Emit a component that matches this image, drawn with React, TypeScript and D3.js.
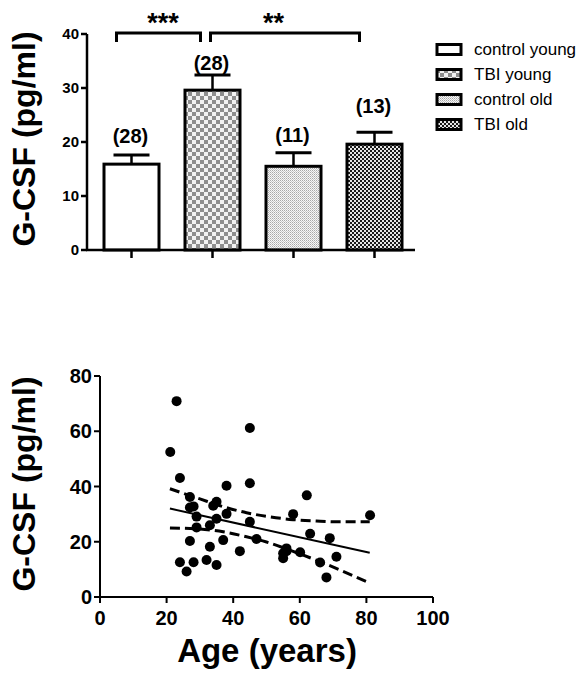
import React from "react";
import * as d3 from "d3";

const groups = ["control young", "TBI young", "control old", "TBI old"];
const means = [15.9, 29.6, 15.5, 19.6];
const sems = [1.7, 2.8, 2.5, 2.2];
const counts = ["(28)", "(28)", "(11)", "(13)"];
const countLabelAt = [19.8, 33.3, 20.0, 25.4];
const barTicks = [0, 10, 20, 30, 40];
const sigLabels = ["***", "**"];

const ages = [21.1, 23.0, 24.0, 24.0, 26.0, 27.0, 27.0, 27.0, 28.1, 28.1, 29.0, 29.0, 32.0, 33.0, 33.0, 34.0, 35.0, 35.0, 35.0, 37.0, 38.0, 38.0, 42.0, 45.0, 45.0, 45.0, 47.0, 55.0, 55.0, 56.0, 56.0, 58.0, 60.1, 62.1, 63.1, 66.1, 68.0, 69.0, 71.0, 81.1];
const gcsf = [52.5, 70.9, 43.1, 12.6, 9.2, 36.2, 20.3, 32.4, 32.8, 12.6, 29.1, 25.2, 13.4, 26.0, 18.2, 33.0, 34.5, 28.3, 11.6, 20.6, 30.1, 40.3, 16.6, 61.2, 41.2, 27.2, 21.0, 14.0, 15.8, 17.6, 16.6, 30.0, 16.2, 36.8, 22.9, 12.5, 7.1, 21.3, 14.6, 29.6];
const fitAges = [21, 81];
const fitValues = [32.0, 16.0];
const bandAges = [21, 30, 37, 44, 50, 58, 65, 72, 81];
const bandUpper = [39.2, 35.5, 32.7, 30.5, 29.2, 28.0, 27.5, 27.2, 27.2];
const bandLower = [25.0, 24.6, 23.6, 21.8, 19.9, 16.5, 13.3, 9.8, 5.0];
const ageTicks = [0, 20, 40, 60, 80, 100];
const gTicks = [0, 20, 40, 60, 80];

const FONT = "'Liberation Sans', Arial, Helvetica, sans-serif";
const fills = ["#ffffff", "url(#pCheck)", "url(#pDots)", "url(#pDark)"];

export default function App() {
  // Bar chart scales
  const xb = d3.scalePoint<string>().domain(groups).range([91, 415]).padding(0.5);
  const yb = d3.scaleLinear().domain([0, 40]).range([250, 34]);
  const bw = 55;
  const capW = 36;

  // Scatter scales
  const xs = d3.scaleLinear().domain([0, 100]).range([100, 433]);
  const ys = d3.scaleLinear().domain([0, 80]).range([597, 376]);
  const fitLine = d3.line<number>().x((_, i) => xs(fitAges[i])).y((v) => ys(v));
  const bandLine = d3
    .line<number>()
    .x((_, i) => xs(bandAges[i]))
    .y((v) => ys(v))
    .curve(d3.curveMonotoneX);

  const x1 = xb(groups[0])!, x2 = xb(groups[1])!, x4 = xb(groups[3])!;
  const brackets = [
    { l: x1 - 15, r: x2 - 12, label: sigLabels[0], lx: (x1 + x2) / 2 - 9 },
    { l: x2 - 2, r: x4 - 15, label: sigLabels[1], lx: (x2 + x4) / 2 - 20 },
  ];

  return (
    <svg width={587} height={676} style={{ position: "absolute", left: 0, top: 0, background: "#fff" }} fontFamily={FONT}>
      <defs>
        <pattern id="pCheck" patternUnits="userSpaceOnUse" width={8} height={8}>
          <rect width={8} height={8} fill="#f2f2f2" />
          <rect width={4} height={4} fill="#8e8e8e" />
          <rect x={4} y={4} width={4} height={4} fill="#8e8e8e" />
        </pattern>
        <pattern id="pDots" patternUnits="userSpaceOnUse" width={2} height={2}>
          <rect width={2} height={2} fill="#f7f7f7" />
          <rect width={1} height={1} fill="#a8a8a8" />
          <rect x={1} y={1} width={1} height={1} fill="#c8c8c8" />
        </pattern>
        <pattern id="pDark" patternUnits="userSpaceOnUse" width={4} height={4}>
          <rect width={4} height={4} fill="#e6e6e6" />
          <rect width={2} height={2} fill="#1a1a1a" />
          <rect x={2} y={2} width={2} height={2} fill="#1a1a1a" />
        </pattern>
      </defs>

      {/* ===== Bar chart ===== */}
      <text
        transform={`translate(35,139) rotate(-90)`}
        textAnchor="middle"
        fontSize={32}
        fontWeight="bold"
      >
        G-CSF (pg/ml)
      </text>
      {groups.map((g, i) => {
        const cx = xb(g)!;
        return (
          <g key={g}>
            <rect x={cx - bw / 2} y={yb(means[i])} width={bw} height={yb(0) - yb(means[i])} fill={fills[i]} stroke="#000" strokeWidth={3} />
            <line x1={cx} x2={cx} y1={yb(means[i])} y2={yb(means[i] + sems[i])} stroke="#000" strokeWidth={2.5} />
            <line x1={cx - capW / 2} x2={cx + capW / 2} y1={yb(means[i] + sems[i])} y2={yb(means[i] + sems[i])} stroke="#000" strokeWidth={3} />
            <text x={cx - 1} y={yb(countLabelAt[i])} textAnchor="middle" fontSize={20} fontWeight="bold">
              {counts[i]}
            </text>
            <line x1={cx} x2={cx} y1={250} y2={258} stroke="#000" strokeWidth={2.5} />
          </g>
        );
      })}
      <line x1={87} x2={87} y1={yb(0) + 1} y2={yb(40)} stroke="#000" strokeWidth={2.5} />
      <line x1={86} x2={415} y1={yb(0)} y2={yb(0)} stroke="#000" strokeWidth={2.5} />
      {barTicks.map((t) => (
        <g key={t}>
          <line x1={81} x2={87} y1={yb(t)} y2={yb(t)} stroke="#000" strokeWidth={2.5} />
          <text x={79} y={yb(t)} dy="0.36em" textAnchor="end" fontSize={15} fontWeight="bold">
            {t}
          </text>
        </g>
      ))}
      {brackets.map((b, i) => (
        <g key={i}>
          <path d={`M${b.l},42 V33 H${b.r} V42`} fill="none" stroke="#000" strokeWidth={3} />
          <text x={b.lx} y={32} textAnchor="middle" fontSize={27} fontWeight="bold">
            {b.label}
          </text>
        </g>
      ))}

      {/* Legend */}
      {groups.map((g, i) => (
        <g key={g} transform={`translate(0,${i * 25})`}>
          <rect x={437} y={44.5} width={24} height={10} fill={fills[i]} stroke="#000" strokeWidth={3} />
          <text x={474} y={55} fontSize={17}>
            {g}
          </text>
        </g>
      ))}

      {/* ===== Scatter ===== */}
      <text transform={`translate(35,484) rotate(-90)`} textAnchor="middle" fontSize={32} fontWeight="bold">
        G-CSF (pg/ml)
      </text>
      <text x={267} y={662} textAnchor="middle" fontSize={33} fontWeight="bold">
        Age (years)
      </text>
      <line x1={xs(0)} x2={xs(0)} y1={ys(0)} y2={ys(80)} stroke="#000" strokeWidth={2} />
      <line x1={xs(0)} x2={xs(100)} y1={ys(0)} y2={ys(0)} stroke="#000" strokeWidth={2} />
      {gTicks.map((t) => (
        <g key={t}>
          <line x1={xs(0) - 6} x2={xs(0)} y1={ys(t)} y2={ys(t)} stroke="#000" strokeWidth={2} />
          <text x={xs(0) - 8} y={ys(t)} dy="0.36em" textAnchor="end" fontSize={20} fontWeight="bold">
            {t}
          </text>
        </g>
      ))}
      {ageTicks.map((t) => (
        <g key={t}>
          <line x1={xs(t)} x2={xs(t)} y1={ys(0)} y2={ys(0) + 6} stroke="#000" strokeWidth={2} />
          <text x={xs(t)} y={625} textAnchor="middle" fontSize={20} fontWeight="bold">
            {t}
          </text>
        </g>
      ))}
      {ages.map((a, i) => (
        <circle key={i} cx={xs(a)} cy={ys(gcsf[i])} r={5} fill="#000" />
      ))}
      <path d={fitLine(fitValues) || ""} fill="none" stroke="#000" strokeWidth={2} />
      <path d={bandLine(bandUpper) || ""} fill="none" stroke="#000" strokeWidth={3} strokeDasharray="10,5" />
      <path d={bandLine(bandLower) || ""} fill="none" stroke="#000" strokeWidth={3} strokeDasharray="10,5" />
    </svg>
  );
}
